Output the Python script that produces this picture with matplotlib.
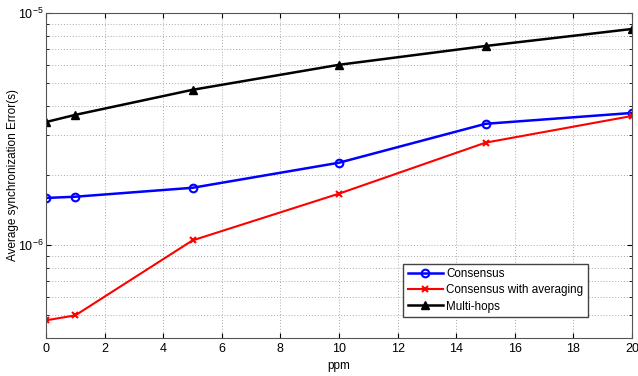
import matplotlib
matplotlib.use('Agg')
from matplotlib import pyplot as plt
from matplotlib.ticker import LogLocator, NullFormatter

ppm = [0, 1, 5, 10, 15, 20]
consensus = [1.60e-6, 1.62e-6, 1.77e-6, 2.27e-6, 3.34e-6, 3.72e-6]
consensus_avg = [4.75e-7, 4.99e-7, 1.05e-6, 1.67e-6, 2.77e-6, 3.61e-6]
multi_hops = [3.40e-6, 3.65e-6, 4.68e-6, 6.0e-6, 7.23e-6, 8.56e-6]

plt.rcParams['font.family'] = ['Liberation Sans', 'DejaVu Sans']
plt.rcParams['font.size'] = 8.5

fig = plt.figure(figsize=(6.38, 3.76), dpi=100)
ax = fig.add_axes([0.0721, 0.102, 0.9185, 0.8626])

ax.plot(ppm, consensus, color='blue', marker='o', markersize=5.5, markerfacecolor='none',
        markeredgewidth=1.5, linewidth=1.8, label='Consensus')
ax.plot(ppm, consensus_avg, color='red', marker='x', markersize=4, markeredgewidth=1.5,
        linewidth=1.5, label='Consensus with averaging')
ax.plot(ppm, multi_hops, color='black', marker='^', markersize=5.5, linewidth=1.8,
        label='Multi-hops')

ax.set_yscale('log')
ax.set_xlim(0, 20)
ax.set_ylim(4e-7, 1e-5)
ax.set_xticks(range(0, 21, 2))
ax.yaxis.set_major_locator(LogLocator(base=10))
ax.yaxis.set_minor_locator(LogLocator(base=10, subs=range(2, 10)))
ax.yaxis.set_minor_formatter(NullFormatter())
ax.tick_params(which='both', direction='in', top=True, right=True, labelsize=9)
ax.tick_params(axis='y', pad=2)
ax.grid(True, which='major', linestyle=(0, (1, 2)), color='#aaaaaa', linewidth=0.7)
ax.grid(True, which='minor', axis='y', linestyle=(0, (1, 2)), color='#aaaaaa', linewidth=0.7)
for s in ax.spines.values():
    s.set_color('#555555')

ax.set_xlabel('ppm')
ax.set_ylabel('Average synchronization Error(s)')
ax.yaxis.set_label_coords(-0.046, 0.5)

leg = ax.legend(loc='lower right', bbox_to_anchor=(0.935, 0.045), fancybox=False,
                framealpha=1, edgecolor='#444444', borderpad=0.4, handlelength=3,
                fontsize=8.4, labelspacing=0.35, handletextpad=0.3)

plt.savefig('out.png', dpi=100)
